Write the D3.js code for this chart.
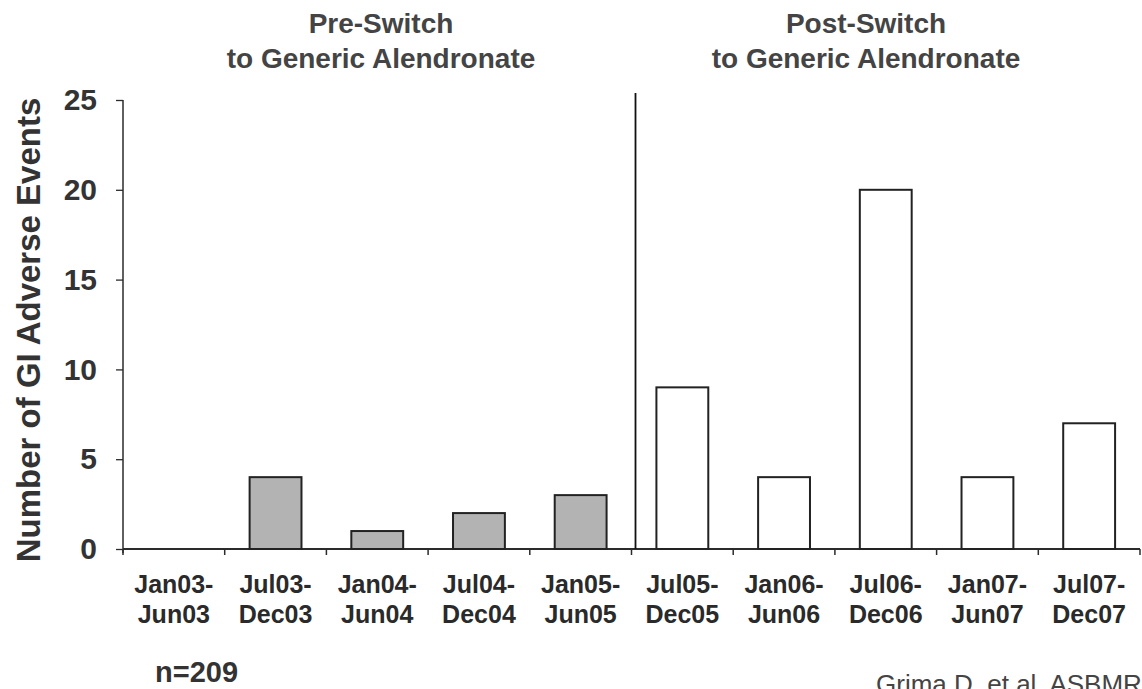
<!DOCTYPE html>
<html>
<head>
<meta charset="utf-8">
<script src="https://cdn.jsdelivr.net/npm/d3@7"></script>
<style>
  body { margin: 0; background: #fff; }
  svg { font-family: "Liberation Sans", Arial, sans-serif; }
</style>
</head>
<body>
<svg id="chart" width="1142" height="689"></svg>
<script>
// data
const periodsTop = ["Jan03-", "Jul03-", "Jan04-", "Jul04-", "Jan05-", "Jul05-", "Jan06-", "Jul06-", "Jan07-", "Jul07-"]
const periodsBottom = ["Jun03", "Dec03", "Jun04", "Dec04", "Jun05", "Dec05", "Jun06", "Dec06", "Jun07", "Dec07"]
const events = [0, 4, 1, 2, 3, 9, 4, 20, 4, 7]
const phase = ["pre", "pre", "pre", "pre", "pre", "post", "post", "post", "post", "post"]
const yTicks = [0, 5, 10, 15, 20, 25]

const svg = d3.select("#chart")
const plotLeft = 123, plotRight = 1140, plotTop = 100, plotBottom = 549

const x = d3.scaleBand()
  .domain(periodsTop)
  .range([plotLeft, plotRight])
  .paddingInner(0.49)
  .paddingOuter(0.245)

const y = d3.scaleLinear().domain([0, 25]).range([plotBottom, plotTop])

const ink = "#2b2b2b"

// y axis
const yAxis = svg.append("g").attr("transform", "translate(" + plotLeft + ",0)")
  .call(d3.axisLeft(y).tickValues(yTicks).tickSize(7).tickPadding(19))
yAxis.select(".domain").attr("stroke", ink).attr("stroke-width", 1.5).attr("d", "M0," + (plotBottom + 4) + "V" + plotTop)
yAxis.selectAll(".tick line").attr("stroke", ink).attr("stroke-width", 1.3)
yAxis.selectAll(".tick text")
  .attr("fill", "#333").style("font-size", "30px").style("font-weight", "bold")
  .attr("font-family", "Liberation Sans, Arial, sans-serif")

// x axis line with ticks at band boundaries
const step = x.step()
svg.append("line")
  .attr("x1", plotLeft).attr("x2", plotRight).attr("y1", plotBottom).attr("y2", plotBottom)
  .attr("stroke", ink).attr("stroke-width", 2)
d3.range(periodsTop.length + 1).forEach(i => {
  let bx = plotLeft + i * step
  svg.append("line")
    .attr("x1", bx).attr("x2", bx).attr("y1", plotBottom).attr("y2", plotBottom + 6)
    .attr("stroke", ink).attr("stroke-width", 1.5)
})

// divider between pre and post
let divX = plotLeft + 5 * step + 4
svg.append("line")
  .attr("x1", divX).attr("x2", divX).attr("y1", 93).attr("y2", plotBottom)
  .attr("stroke", "#111").attr("stroke-width", 1.8)

// bars
svg.selectAll("rect.bar")
  .data(events)
  .enter().append("rect")
  .attr("class", "bar")
  .attr("x", (d, i) => x(periodsTop[i]))
  .attr("width", x.bandwidth())
  .attr("y", d => y(d))
  .attr("height", d => plotBottom - y(d))
  .attr("fill", (d, i) => phase[i] === "pre" ? "#b3b3b3" : "#ffffff")
  .attr("stroke", (d, i) => d > 0 ? "#222" : "none")
  .attr("stroke-width", 2)

// x labels
const xl = svg.append("g")
periodsTop.forEach((p, i) => {
  let cx = x(p) + x.bandwidth() / 2
  let t = xl.append("text")
    .attr("x", cx).attr("text-anchor", "middle")
    .attr("fill", "#2a2a2a").style("font-size", "25px").style("font-weight", "bold")
  t.append("tspan").attr("x", cx).attr("y", 593).text(p)
  t.append("tspan").attr("x", cx).attr("y", 623).text(periodsBottom[i])
})

// y title
svg.append("text")
  .attr("transform", "translate(40,330) rotate(-90)")
  .attr("text-anchor", "middle")
  .attr("fill", "#333").style("font-size", "33px").style("font-weight", "bold")
  .text("Number of GI Adverse Events")

// group titles
const titles = [["Pre-Switch", "to Generic Alendronate", 381], ["Post-Switch", "to Generic Alendronate", 866]]
titles.forEach(tt => {
  let t = svg.append("text").attr("text-anchor", "middle")
    .attr("fill", "#444").style("font-size", "28px").style("font-weight", "bold")
  t.append("tspan").attr("x", tt[2]).attr("y", 33).text(tt[0])
  t.append("tspan").attr("x", tt[2]).attr("y", 68).text(tt[1])
})

// notes
svg.append("text").attr("x", 155).attr("y", 682)
  .attr("fill", "#333").style("font-size", "29px").style("font-weight", "bold")
  .text("n=209")
svg.append("text").attr("x", 876).attr("y", 693)
  .attr("fill", "#444").style("font-size", "26px")
  .text("Grima D, et al. ASBMR")
</script>
</body>
</html>
